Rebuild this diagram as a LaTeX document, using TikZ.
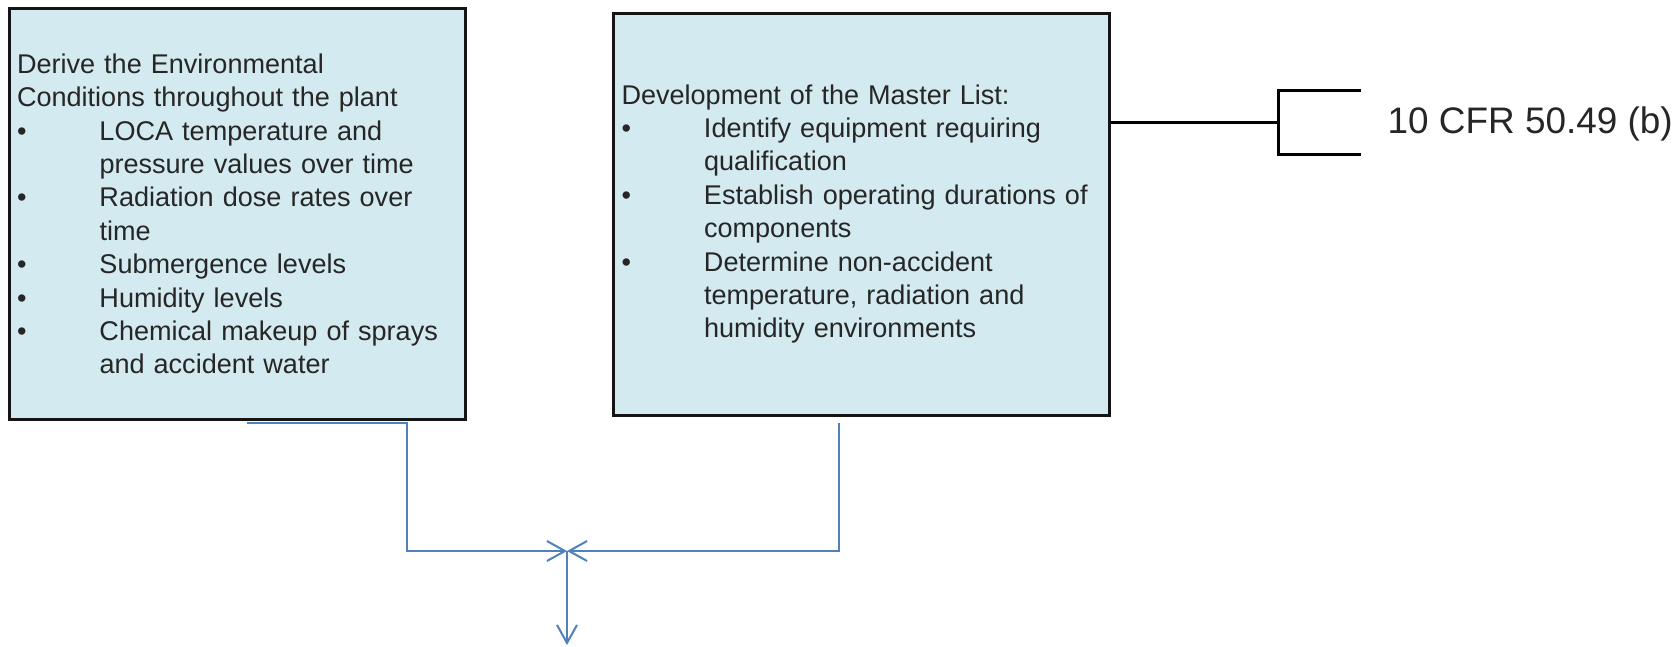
\documentclass[tikz,border=0pt]{standalone}
\usepackage{fontspec}
\setmainfont{Liberation Sans}
\usepackage{xcolor}
\usepackage{tikz}
\usetikzlibrary{calc,positioning,arrows.meta}
\definecolor{BoxFill}{HTML}{D3EAF0}
\definecolor{BoxEdge}{HTML}{141414}
\definecolor{TextInk}{HTML}{262626}
\definecolor{FlowBlue}{HTML}{4F81BD}
\newlength{\itemgap}
\setlength{\itemgap}{0.825cm}
\newcommand{\qbul}{\makebox[\itemgap][l]{\textbullet}}
\newcommand{\qind}{\hspace*{\itemgap}}

\begin{document}
\begin{tikzpicture}[
        node distance=1.45cm,
        qualbox/.style={draw=BoxEdge, fill=BoxFill, line width=0.03cm, text=TextInk,
            align=left, inner ysep=0pt, font=\fontsize{7.7}{9.5}\selectfont},
        flow/.style={draw=FlowBlue, line width=0.02cm, -{Straight Barb[length=0.18cm,width=0.2cm]}},
        bracket/.style={draw=black, line width=0.03cm}
    ]
        \useasboundingbox (0,0) rectangle (16.79,-6.46);
        \node[qualbox, anchor=north west, text width=4.41cm, inner xsep=0.075cm, minimum height=4.11cm] (envbox) at (0.08,-0.07) {%
            Derive the Environmental\\
            Conditions throughout the plant\\
            \qbul LOCA temperature and\\
            \qind pressure values over time\\
            \qbul Radiation dose rates over\\
            \qind time\\
            \qbul Submergence levels\\
            \qbul Humidity levels\\
            \qbul Chemical makeup of sprays\\
            \qind and accident water};
        \node[qualbox, right=of envbox, text width=4.80cm, inner xsep=0.08cm, minimum height=4.02cm] (masterbox) {%
            Development of the Master List:\\
            \qbul Identify equipment requiring\\
            \qind qualification\\
            \qbul Establish operating durations of\\
            \qind components\\
            \qbul Determine non-accident\\
            \qind temperature, radiation and\\
            \qind humidity environments};

        \coordinate (tap) at ($(masterbox.north east)+(0,-1.11)$);
        \coordinate (brk) at ($(tap)+(1.67,0)$);
        \draw[bracket] (tap) -- (brk);
        \draw[bracket] ($(brk)+(0.83,0.32)$) -- ++(-0.83,0) -- ++(0,-0.635) -- ++(0.83,0);
        \node[anchor=base west, inner sep=0pt, text=TextInk, font=\fontsize{10.5}{12}\selectfont] (cfr) at ($(brk)+(1.09,-0.11)$) {10 CFR 50.49 (b)};

        \coordinate (join) at (5.67,-5.51);
        \coordinate (out) at (5.67,-6.45);
        \draw[flow] ($(envbox.south)+(0.095,-0.015)$) -- ++(1.6,0) |- (join);
        \draw[flow] ($(masterbox.south)+(-0.225,-0.06)$) |- (join);
        \draw[flow] (join) -- (out);
    \end{tikzpicture}
\end{document}
